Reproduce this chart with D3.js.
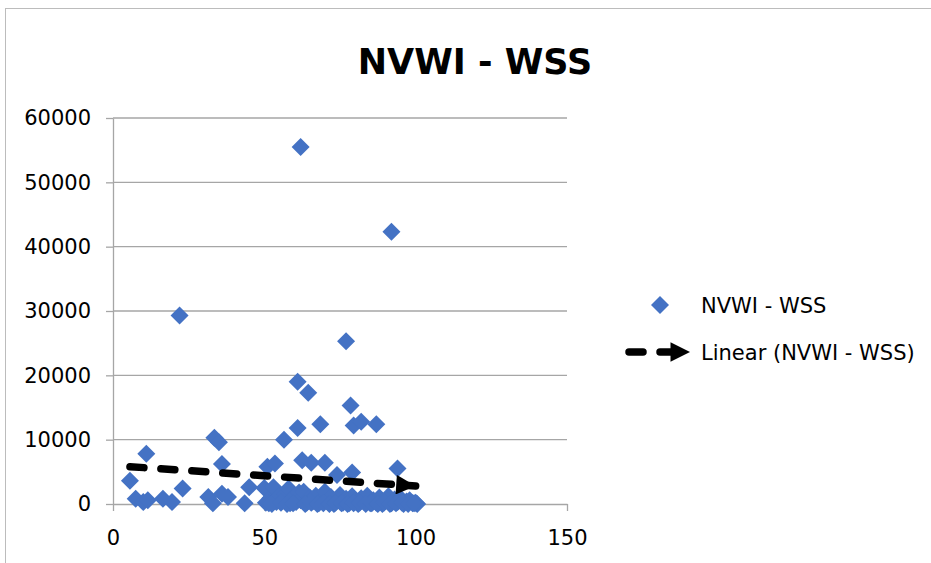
<!DOCTYPE html>
<html>
<head>
<meta charset="utf-8">
<script src="https://cdn.jsdelivr.net/npm/d3@7"></script>
<style>
  body { margin: 0; background: #fff; }
  text { font-family: "DejaVu Sans", sans-serif; fill: #000; }
</style>
</head>
<body>
<svg width="931" height="563"></svg>
<script>
// scatter values (x, y)
const xValues = [62, 92, 22, 77, 61, 64.5, 78.5, 79.5, 82, 87, 68.5, 61, 56.5, 33.5, 35, 11, 36,
  51, 53.5, 62.5, 65.5, 70, 74, 79, 94, 5.6, 23, 45,
  7.5, 10, 11.5, 16.5, 19.5, 31.5, 33, 36, 38, 43.5,
  50, 50.5, 52, 53, 54, 55, 56, 57, 58, 58.5, 59, 60, 60.5, 61.5, 62, 63, 64, 65, 66, 67, 68, 69,
  70, 71, 72, 73, 74, 75, 76, 77, 78, 79, 80, 81, 82, 83, 84, 85, 86, 87, 88, 89, 90, 91, 92, 93,
  94, 95, 96, 97, 98, 99, 100, 100.5,
  51.5, 52.5, 55.5, 57.5, 59.5, 63.5, 65.5, 67.5, 69.5, 71.5, 73.5, 75.5, 77.5, 79.5, 81.5, 83.5,
  85.5, 87.5, 89.5, 91.5, 93.5, 95.5, 97.5, 99.5]
const yValues = [55500, 42300, 29300, 25300, 19000, 17300, 15300, 12200, 12800, 12400, 12400, 11800, 10000, 10300, 9600, 7800, 6200,
  5800, 6300, 6800, 6400, 6400, 4500, 4900, 5500, 3600, 2400, 2600,
  800, 300, 600, 800, 300, 1100, 100, 1600, 1100, 100,
  2500, 200, 900, 2600, 300, 1200, 500, 1500, 2400, 100, 800, 1300, 300, 1800, 600, 1900, 200, 1000, 400, 1300, 100, 700,
  1900, 300, 1100, 0, 600, 1400, 200, 800, 100, 1200, 400, 0, 900, 300, 1300, 100, 600, 200, 1000, 0, 500, 1200, 100, 700,
  300, 900, 0, 400, 600, 100, 200, 0,
  100, 0, 200, 0, 100, 0, 200, 0, 100, 0, 200, 100, 0, 100, 200, 0,
  100, 0, 200, 0, 100, 200, 0, 100]

// linear trendline ends as drawn in the picture
const trendX = [5.6, 100]
const trendY = [5800, 2800]

const xTicks = [0, 50, 100, 150]
const yTicks = [0, 10000, 20000, 30000, 40000, 50000, 60000]

const seriesName = 'NVWI - WSS'
const trendName = 'Linear (NVWI - WSS)'

const blue = '#4472c4'
const grid = '#a6a6a6'

const plotLeft = 113, plotRight = 567, plotTop = 118, plotBottom = 504

const svg = d3.select('svg')

// outer chart border
svg.append('rect')
  .attr('x', 5.5).attr('y', 8.5)
  .attr('width', 1000).attr('height', 1000)
  .attr('fill', 'none')
  .attr('stroke', '#bcbcbc')

svg.append('text')
  .attr('x', 475)
  .attr('y', 74)
  .attr('text-anchor', 'middle')
  .style('font-size', '35px')
  .style('font-weight', 'bold')
  .text(seriesName)

const xScale = d3.scaleLinear().domain([0, 150]).range([plotLeft, plotRight])
const yScale = d3.scaleLinear().domain([0, 60000]).range([plotBottom, plotTop])

// horizontal gridlines
svg.append('g')
  .selectAll('line')
  .data(yTicks.slice(1))
  .enter()
  .append('line')
  .attr('x1', plotLeft).attr('x2', plotRight)
  .attr('y1', d => yScale(d)).attr('y2', d => yScale(d))
  .attr('stroke', grid)
  .attr('stroke-width', 1.3)

const yAxis = svg.append('g')
  .attr('transform', `translate(${plotLeft}, 0)`)
  .call(d3.axisLeft(yScale).tickValues(yTicks).tickFormat(d3.format('d'))
    .tickSize(7).tickPadding(15).tickSizeOuter(0))
yAxis.select('.domain').attr('stroke', grid).attr('stroke-width', 1.3)
yAxis.selectAll('line').attr('stroke', grid).attr('stroke-width', 1.3)
yAxis.selectAll('text').style('font-size', '21px').style('font-family', '"DejaVu Sans", sans-serif')

const xAxis = svg.append('g')
  .attr('transform', `translate(0, ${plotBottom})`)
  .call(d3.axisBottom(xScale).tickValues(xTicks).tickFormat(d3.format('d'))
    .tickSize(7).tickPadding(19).tickSizeOuter(0))
xAxis.select('.domain').attr('stroke', grid).attr('stroke-width', 1.3)
xAxis.selectAll('line').attr('stroke', grid).attr('stroke-width', 1.3)
xAxis.selectAll('text').style('font-size', '21px').style('font-family', '"DejaVu Sans", sans-serif')

const diamond = 'M0,-9L9,0L0,9L-9,0Z'

svg.append('g')
  .selectAll('path')
  .data(xValues.map((x, i) => [x, yValues[i]]))
  .enter()
  .append('path')
  .attr('d', diamond)
  .attr('transform', d => `translate(${xScale(d[0])}, ${yScale(d[1])})`)
  .attr('fill', blue)

svg.append('defs').append('marker')
  .attr('id', 'arrow')
  .attr('viewBox', '0 0 10 10')
  .attr('refX', 10).attr('refY', 5)
  .attr('markerWidth', 3.1).attr('markerHeight', 2.6)
  .attr('markerUnits', 'strokeWidth')
  .attr('orient', 'auto')
  .append('path')
  .attr('d', 'M0,0L10,5L0,10Z')
  .attr('fill', '#000')

const line = d3.line().x(d => xScale(d[0])).y(d => yScale(d[1]))

svg.append('path')
  .datum(trendX.map((x, i) => [x, trendY[i]]))
  .attr('d', line)
  .attr('fill', 'none')
  .attr('stroke', '#000')
  .attr('stroke-width', 7.5)
  .attr('stroke-linecap', 'round')
  .attr('stroke-dasharray', '14,17')
  .attr('marker-end', 'url(#arrow)')

// legend
const legend = svg.append('g')

legend.append('path')
  .attr('d', diamond)
  .attr('transform', 'translate(660, 305)')
  .attr('fill', blue)

legend.append('text')
  .attr('x', 701).attr('y', 313)
  .style('font-size', '21px')
  .text(seriesName)

legend.append('path')
  .attr('d', 'M629,352L690,352')
  .attr('fill', 'none')
  .attr('stroke', '#000')
  .attr('stroke-width', 7.5)
  .attr('stroke-linecap', 'round')
  .attr('stroke-dasharray', '14,17')
  .attr('marker-end', 'url(#arrow)')

legend.append('text')
  .attr('x', 701).attr('y', 360)
  .style('font-size', '21px')
  .text(trendName)
</script>
</body>
</html>
